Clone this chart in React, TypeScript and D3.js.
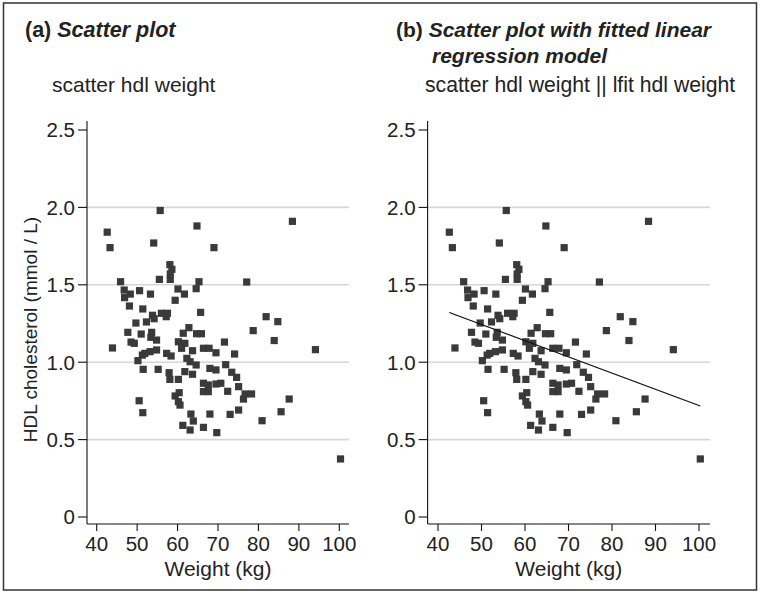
import React from "react";
import * as d3 from "d3";

// Data (weight in kg, HDL in mmol/L)
const weight = [
  55.7, 42.6, 64.8, 43.3, 54.1, 69.0, 58.1, 58.6, 58.2, 55.5, 58.2, 45.9, 65.3, 46.8, 50.6, 60.1, 64.6, 48.3, 53.3, 61.7,
  46.9, 59.4, 48.1, 51.4, 56.0, 57.5, 53.8, 54.2, 57.2, 65.7, 49.7, 52.3, 62.8, 47.7, 51.0, 53.6, 61.4, 64.7, 65.9,
  88.4, 77.1, 81.9, 84.8, 78.7, 71.6, 83.9, 94.1, 74.1, 71.9, 73.4, 74.6, 70.7, 75.1, 72.4, 76.7, 78.3, 76.3, 87.6,
  75.1, 85.6, 73.0, 80.9, 69.7, 100.3,
  43.9, 48.5, 49.3, 53.4, 53.2, 54.8, 51.9, 51.3, 54.8, 50.2, 57.3, 58.4, 60.2, 61.8, 61.0, 63.7, 62.3, 63.1, 64.6,
  66.4, 67.8, 69.5, 51.5, 55.2, 57.9, 58.1, 60.2, 61.8, 63.7, 68.0, 69.5, 66.4, 67.6, 66.4, 67.6, 69.5, 59.4, 60.4,
  60.2, 60.6, 50.5, 51.4, 63.3, 68.0, 63.9, 61.3, 63.1, 66.4,
];
const hdl = [
  1.98, 1.84, 1.88, 1.74, 1.77, 1.74, 1.63, 1.6, 1.57, 1.535, 1.535, 1.52, 1.52, 1.466, 1.462, 1.473, 1.475, 1.44, 1.44, 1.44,
  1.417, 1.4, 1.363, 1.344, 1.316, 1.316, 1.303, 1.281, 1.294, 1.322, 1.253, 1.26, 1.223, 1.193, 1.182, 1.193, 1.187, 1.184, 1.184,
  1.91, 1.518, 1.294, 1.262, 1.204, 1.13, 1.14, 1.081, 1.053, 0.984, 0.935, 0.902, 0.864, 0.842, 0.812, 0.795, 0.795, 0.762, 0.762,
  0.691, 0.68, 0.663, 0.622, 0.545, 0.375,
  1.092, 1.13, 1.122, 1.161, 1.068, 1.143, 1.057, 1.046, 1.079, 1.01, 1.057, 1.04, 1.132, 1.122, 1.09, 1.074, 1.025, 1.003, 0.982,
  1.09, 1.09, 1.061, 0.954, 0.954, 0.932, 0.889, 0.889, 0.939, 0.922, 0.96, 0.95, 0.864, 0.853, 0.81, 0.81, 0.859, 0.782, 0.803,
  0.745, 0.723, 0.751, 0.674, 0.665, 0.665, 0.62, 0.592, 0.562, 0.579,
];

const xTicks = [40, 50, 60, 70, 80, 90, 100];
const yTicks = [0, 0.5, 1.0, 1.5, 2.0, 2.5];
const yTickLabels = ["0", "0.5", "1.0", "1.5", "2.0", "2.5"];
const gridValues = [0.5, 1.0, 1.5, 2.0];

const FONT = "'Liberation Sans', Arial, Helvetica, sans-serif";
const TEXT = "#222";
const MARK = "#3a3a3a";
const TICK_FS = 20.5;

type PanelProps = {
  x0: number; // pixel of x=40
  x1: number; // pixel of x=100
  axisLeft: number;
  axisRight: number;
  showYTitle: boolean;
  fit: boolean;
};

function Panel({ x0, x1, axisLeft, axisRight, showYTitle, fit }: PanelProps) {
  const x = d3.scaleLinear().domain([40, 100]).range([x0, x1]);
  const y = d3.scaleLinear().domain([0, 2.5]).range([517, 130]);
  const axisTop = 121;
  const axisBottom = 524;
  const pts = weight.map((w, i) => ({ w, h: hdl[i] }));
  const size = 7.2;

  let fitLine: string | null = null;
  if (fit) {
    const mx = d3.mean(weight) as number;
    const my = d3.mean(hdl) as number;
    let sxy = 0,
      sxx = 0;
    weight.forEach((w, i) => {
      sxy += (w - mx) * (hdl[i] - my);
      sxx += (w - mx) * (w - mx);
    });
    const b = sxy / sxx;
    const a = my - b * mx;
    const [minW, maxW] = d3.extent(weight) as [number, number];
    fitLine =
      d3.line<number>()
        .x((d) => x(d))
        .y((d) => y(a + b * d))([minW, maxW]) || null;
  }

  return (
    <g>
      {gridValues.map((g) => (
        <line key={g} x1={axisLeft} x2={axisRight} y1={y(g)} y2={y(g)} stroke="#d6d6d6" strokeWidth={1.6} />
      ))}
      {/* y axis */}
      <line x1={axisLeft} x2={axisLeft} y1={axisTop} y2={axisBottom} stroke="#111" strokeWidth={1.1} />
      {yTicks.map((t, i) => (
        <g key={t}>
          <line x1={axisLeft - 9} x2={axisLeft} y1={y(t)} y2={y(t)} stroke="#111" strokeWidth={1.1} />
          <text x={axisLeft - 12} y={y(t)} dy="0.36em" textAnchor="end" fontSize={TICK_FS} fill={TEXT} fontFamily={FONT}>
            {yTickLabels[i]}
          </text>
        </g>
      ))}
      {/* x axis */}
      <line x1={axisLeft} x2={axisRight} y1={axisBottom} y2={axisBottom} stroke="#111" strokeWidth={1.1} />
      {xTicks.map((t) => (
        <g key={t}>
          <line x1={x(t)} x2={x(t)} y1={axisBottom} y2={axisBottom + 7} stroke="#111" strokeWidth={1.1} />
          <text x={x(t)} y={551} textAnchor="middle" fontSize={TICK_FS} fill={TEXT} fontFamily={FONT}>
            {t}
          </text>
        </g>
      ))}
      <text x={(axisLeft + axisRight) / 2} y={576} textAnchor="middle" fontSize={21} fill={TEXT} fontFamily={FONT}>
        Weight (kg)
      </text>
      {showYTitle && (
        <text
          transform={`translate(37, ${(axisTop + axisBottom) / 2 + 7}) rotate(-90)`}
          textAnchor="middle"
          fontSize={19}
          fill={TEXT}
          fontFamily={FONT}
        >
          HDL cholesterol (mmol / L)
        </text>
      )}
      {pts.map((p, i) => (
        <rect key={i} x={x(p.w) - size / 2} y={y(p.h) - size / 2} width={size} height={size} fill={MARK} />
      ))}
      {fitLine && <path d={fitLine} fill="none" stroke="#111" strokeWidth={1.3} />}
    </g>
  );
}

export default function App() {
  return (
    <svg
      width={760}
      height={593}
      style={{ position: "absolute", left: 0, top: 0, background: "#fff" }}
    >
      <rect x={3.5} y={3} width={753} height={587} fill="#fff" stroke="#333" strokeWidth={1.5} />
      <text x={25} y={37} fontSize={21.5} fontWeight="bold" fill={TEXT} fontFamily={FONT}>
        (a) <tspan fontStyle="italic">Scatter plot</tspan>
      </text>
      <text x={52} y={92} fontSize={21} fill={TEXT} fontFamily={FONT}>
        scatter hdl weight
      </text>
      <text x={396} y={37} fontSize={21} fontWeight="bold" fill={TEXT} fontFamily={FONT}>
        (b) <tspan fontStyle="italic">Scatter plot with fitted linear</tspan>
      </text>
      <text x={432} y={63} fontSize={21} fontWeight="bold" fontStyle="italic" fill={TEXT} fontFamily={FONT}>
        regression model
      </text>
      <text x={425} y={92} fontSize={21.2} fill={TEXT} fontFamily={FONT}>
        scatter hdl weight || lfit hdl weight
      </text>
      <Panel x0={96.7} x1={339.3} axisLeft={87} axisRight={349} showYTitle={true} fit={false} />
      <Panel x0={438} x1={699} axisLeft={427.6} axisRight={710} showYTitle={false} fit={true} />
    </svg>
  );
}
